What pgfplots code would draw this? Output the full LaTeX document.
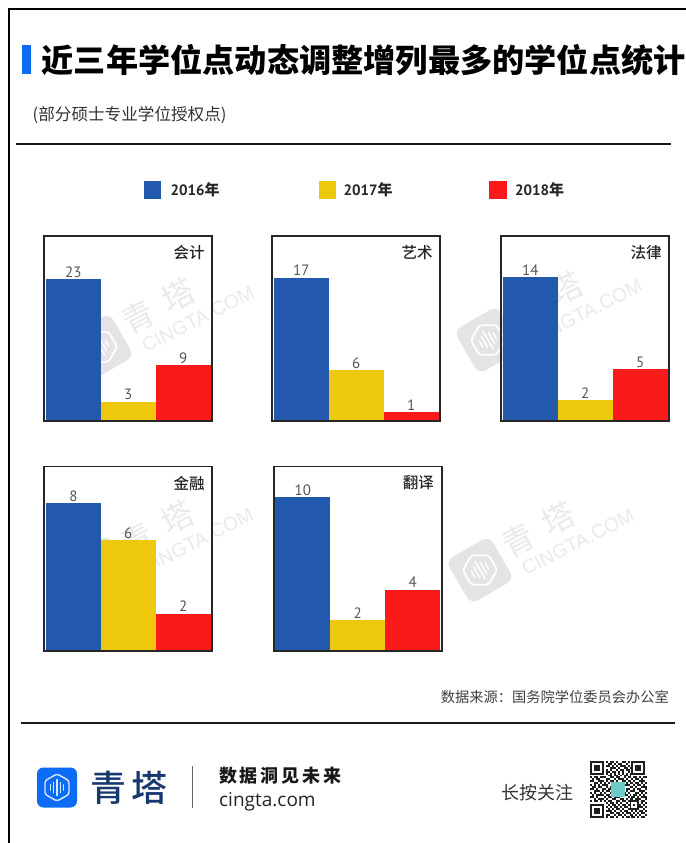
\documentclass[border=0pt]{standalone}
\usepackage{fontspec}
\usepackage{pgfplots}
\pgfplotsset{compat=1.18}
\setmainfont{Noto Sans CJK SC}
\newfontfamily\cjkblack{Noto Sans CJK SC Black}
\newfontfamily\cjkmedium{Noto Sans CJK SC Medium}
\newfontfamily\digits{PT Sans}
\newfontfamily\latin{Open Sans}
\newfontfamily\wmfont{Liberation Sans}
\newcommand{\fs}[1]{\fontsize{#1bp}{#1bp}\selectfont}

\definecolor{barblue}{HTML}{2259AD}
\definecolor{baryellow}{HTML}{EDC80C}
\definecolor{barred}{HTML}{FB1A1A}
\definecolor{accent}{HTML}{0D6CF6}
\definecolor{brandnavy}{HTML}{17396F}
\definecolor{wmgray}{HTML}{E4E4E4}
\definecolor{wmtext}{HTML}{EAEAEA}
\definecolor{labelgray}{HTML}{555555}
\definecolor{qrteal}{HTML}{6FCBC8}

% one panel: left, bottom, ymax, title, three values
\newcommand{\panel}[7]{%
\begin{axis}[
  at={(#1bp,-#2bp)}, anchor=south west,
  scale only axis, width=168bp, height=184.5bp,
  xmin=-0.03, xmax=3.03, ymin=0, ymax=#3,
  xtick=\empty, ytick=\empty,
  axis line style={line width=1.9bp,color=black!85},
  axis on top,
  bar width=1, ybar, bar shift=0pt,
  every axis plot/.append style={draw=none},
  /pgf/number format/assume math mode=true,
  nodes near coords,
  every node near coord/.style={font=\digits\fs{15},text=labelgray,inner sep=0pt,yshift=7.5bp,anchor=center},
  clip=false,
]
\addplot[fill=barblue] coordinates {(0.5,#5)};
\addplot[fill=baryellow] coordinates {(1.5,#6)};
\addplot[fill=barred] coordinates {(2.5,#7)};
\node[anchor=east,inner sep=0pt,font=\cjkmedium\fs{15.5},text=black!85] at (rel axis cs:0.955,0.91) {#4};
\end{axis}}

% hexagonal sound-wave badge: centre x, y, side, base colour, glyph colour, rotation
\newcommand{\badge}[6]{%
\begin{scope}[shift={(#1,#2)},rotate=#6]
\pgfmathsetmacro{\s}{#3}
\fill[#4,rounded corners=\s*0.16] (-\s/2,-\s/2) rectangle (\s/2,\s/2);
\draw[#5,line width=\s*0.035,rounded corners=\s*0.06]
  (0,-0.34*\s) -- (0.30*\s,-0.17*\s) -- (0.30*\s,0.17*\s) -- (0,0.34*\s) -- (-0.30*\s,0.17*\s) -- (-0.30*\s,-0.17*\s) -- cycle;
\foreach \dx/\h in {-0.16/0.07,-0.08/0.13,0/0.20,0.08/0.13,0.16/0.07}
  \draw[#5,line width=\s*0.03,line cap=round] (\dx*\s,-\h*\s) -- (\dx*\s,\h*\s);
\end{scope}}

% faint brand stamp behind the panels
\newcommand{\stamp}[2]{%
\badge{#1}{#2}{50}{wmgray}{white}{30}
\node[rotate=27,text=wmtext,font=\fs{32}] at (#1+38,#2-30) {青};
\node[rotate=27,text=wmtext,font=\fs{32}] at (#1+78,#2-52) {塔};
\node[rotate=27,text=wmtext,font=\wmfont\fs{19.5}] at (#1+98,#2-28) {CINGTA.COM};}

% QR code rows
\newcount\qx
\newcount\qy
\def\qrnext#1{\ifx#1\relax\else\if#11\fill[black!88] ({589.7+\the\qx*1.99},{760.7+\the\qy*1.97}) rectangle +(1.99,1.97);\fi\advance\qx by 1 \expandafter\qrnext\fi}
\def\qrrow#1{\qx=0 \qrnext#1\relax\advance\qy by 1 }

\begin{document}
\begin{tikzpicture}[x=1bp,y=-1bp]
\clip (0,0) rectangle (686,843);
\fill[white] (0,0) rectangle (686,843);

% page frame
\draw[black,line width=2bp] (8.5,843) -- (8.5,9) -- (686,9);

% heading
\fill[accent] (22,44.5) rectangle (30.5,74);
\node[anchor=west,inner sep=0pt,font=\cjkblack\fs{32.2},text=black] at (41.5,60) {近三年学位点动态调整增列最多的学位点统计};
\node[anchor=west,inner sep=0pt,font=\fs{16.6},text=black!80] at (32.5,115) {(部分硕士专业学位授权点)};
\draw[black!90,line width=2bp] (15.7,144.3) -- (670.6,144.3);

% legend
\fill[barblue] (144.4,181) rectangle (161,198.7);
\node[anchor=west,inner sep=0pt,font=\digits\bfseries\fs{15},text=black!85] at (170.5,190) {2016{\rmfamily\bfseries\fs{15}年}};
\fill[baryellow] (319,181) rectangle (336,198.7);
\node[anchor=west,inner sep=0pt,font=\digits\bfseries\fs{15},text=black!85] at (343.4,190) {2017{\rmfamily\bfseries\fs{15}年}};
\fill[barred] (489,181) rectangle (507,198.7);
\node[anchor=west,inner sep=0pt,font=\digits\bfseries\fs{15},text=black!85] at (515,190) {2018{\rmfamily\bfseries\fs{15}年}};

% stamps
\stamp{100}{347}
\stamp{488}{340}
\stamp{99}{569}
\stamp{480}{570}

% panels
\panel{44.3}{420.7}{30}{会计}{23}{3}{9}
\panel{272.3}{420.7}{22}{艺术}{17}{6}{1}
\panel{501.3}{420.7}{18}{法律}{14}{2}{5}
\panel{44.3}{651}{10}{金融}{8}{6}{2}
\panel{273.7}{651}{12}{翻译}{10}{2}{4}

% source and footer
\node[anchor=east,inner sep=0pt,font=\fs{14.25},text=black!75] at (669,697) {数据来源\char"FF1A\relax 国务院学位委员会办公室};
\draw[black!90,line width=2bp] (20.6,722.7) -- (675,722.7);

\badge{57}{787.5}{40}{accent}{white!85!accent}{0}
\node[anchor=west,inner sep=0pt,font=\cjkmedium\fs{36},text=brandnavy] at (90,788) {青\hspace{5bp}塔};
\draw[black!60,line width=0.9bp] (192.7,766) -- (192.7,808);
\node[anchor=west,inner sep=0pt,text=black!90] at (219,776) {\bfseries\fs{18}\addfontfeature{LetterSpace=15.5}数据洞见未来};
\node[anchor=west,inner sep=0pt,font=\latin\fs{19},text=black!85] at (219,801.5) {cingta.com};
\node[anchor=west,inner sep=0pt,font=\fs{18},text=black!80] at (501,793) {长按关注};

% QR code
\qy=0
\qrrow{11111110101101001101011111110}
\qrrow{10000010011010110010010000010}
\qrrow{10111010110101011101010111010}
\qrrow{10111010001110100110110111010}
\qrrow{10111010101001011011010111010}
\qrrow{10000010110110101001010000010}
\qrrow{11111110101010101010111111110}
\qrrow{00000000011011010110100000000}
\qrrow{10110111001101100101101101011}
\qrrow{01011000110010111010010110100}
\qrrow{11001110101101001101101001110}
\qrrow{00110101010110110010110110101}
\qrrow{10101011100001010111001011010}
\qrrow{01101100101000001000110100111}
\qrrow{11010011011000000011001011001}
\qrrow{00111010110000001010111001110}
\qrrow{10100101001000000101000110101}
\qrrow{01011110110100011110101101010}
\qrrow{11010001011011100001011010111}
\qrrow{00101110100110011010110111001}
\qrrow{10110101011001101101111110110}
\qrrow{00000000101101010010100010101}
\qrrow{11111110010110101101101011010}
\qrrow{10000010101011010110100011101}
\qrrow{10111010010101101001111110010}
\qrrow{10111010111010010110010101101}
\qrrow{10111010001101101011101010110}
\qrrow{10000010110010110100110101001}
\qrrow{11111110101101001011011010110}
\fill[qrteal] (611,782) rectangle (625,797);
\end{tikzpicture}
\end{document}
